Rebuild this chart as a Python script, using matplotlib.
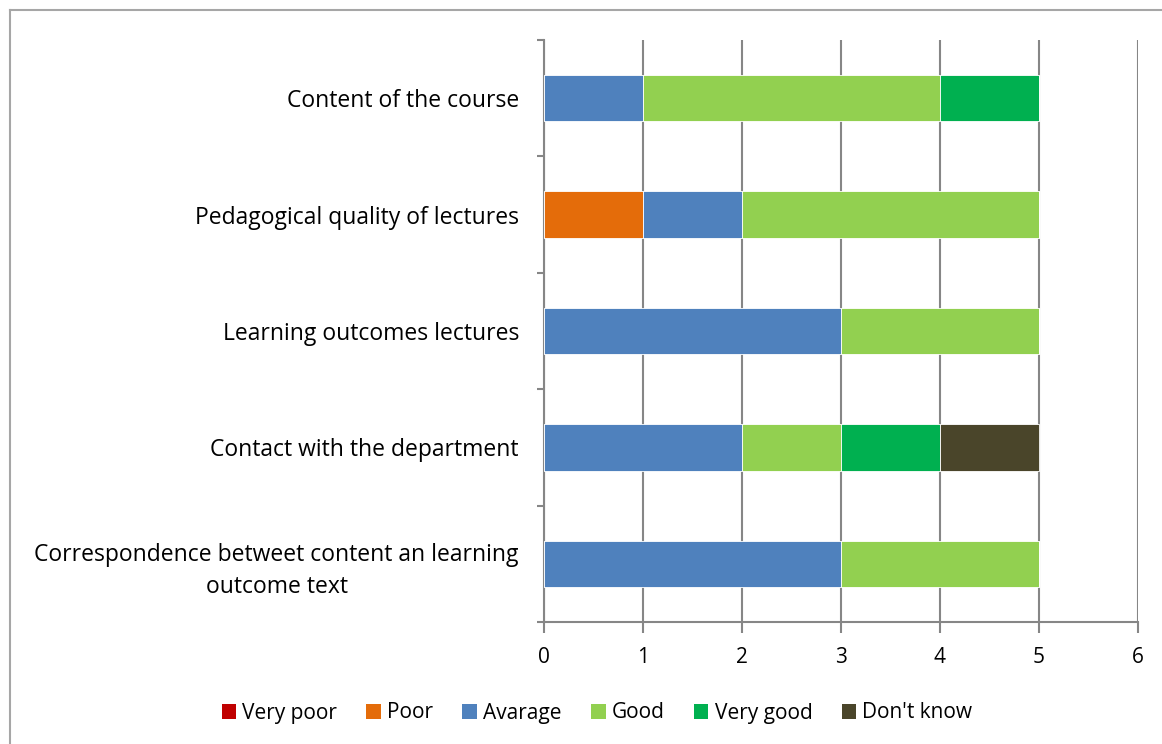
import matplotlib.pyplot as plt
from matplotlib.lines import Line2D
from matplotlib.patches import Patch
import numpy as np

categories = [
    "Content of the course",
    "Pedagogical quality of lectures",
    "Learning outcomes lectures",
    "Contact with the department",
    "Correspondence betweet content an learning\noutcome text",
]
series = ["Very poor", "Poor", "Avarage", "Good", "Very good", "Don't know"]
very_poor = [0, 0, 0, 0, 0]
poor = [0, 1, 0, 0, 0]
avarage = [1, 1, 3, 2, 3]
good = [3, 3, 2, 1, 2]
very_good = [1, 0, 0, 1, 0]
dont_know = [0, 0, 0, 1, 0]
colors = ["#C00000", "#E46C0A", "#4F81BD", "#92D050", "#00B050", "#4A452A"]

plt.rcParams["font.family"] = ["Open Sans", "DejaVu Sans"]

fig = plt.figure(figsize=(11.62, 7.44), dpi=100)
ax = fig.add_axes([544 / 1162, 1 - 622 / 744, (1138 - 544) / 1162, (622 - 40) / 744])

y = np.arange(len(categories))[::-1]
left = np.zeros(len(categories))
for name, vals, col in zip(series, [very_poor, poor, avarage, good, very_good, dont_know], colors):
    vals = np.array(vals, dtype=float)
    ax.barh(y, vals, left=left, height=0.4, color=col, edgecolor="white", linewidth=0.6, zorder=3)
    left += vals

ax.set_xlim(0, 6)
ax.set_ylim(-0.5, 4.5)
ax.set_xticks(range(7))
ax.tick_params(axis="x", length=8, color="#868686", width=1.5, labelsize=15, pad=10)
ax.set_yticks(y)
ax.set_yticklabels(categories, fontsize=16.5, ha="right", multialignment="center",
                   linespacing=1.45)
ax.tick_params(axis="y", length=0, pad=18)
ax.set_yticks(np.arange(-0.5, 5, 1), minor=True)
ax.tick_params(axis="y", which="minor", length=5, color="#868686", width=1.5)
ax.grid(axis="x", color="#868686", linewidth=1.5, zorder=0)
for s in ["top", "right"]:
    ax.spines[s].set_visible(False)
for s in ["left", "bottom"]:
    ax.spines[s].set_color("#868686")
    ax.spines[s].set_linewidth(1.5)

handles = [Patch(facecolor=c, label=n) for n, c in zip(series, colors)]
fig.legend(handles=handles, loc="center", bbox_to_anchor=(597 / 1162, 1 - 713 / 744), ncol=6,
           frameon=False, fontsize=15, handlelength=0.7, handleheight=0.7, handletextpad=0.3,
           columnspacing=1.4)

# chart area border (only left and top visible)
fig.add_artist(Line2D([10 / 1162, 10 / 1162], [0, 1 - 10 / 744], transform=fig.transFigure,
                      color="#A6A6A6", linewidth=1.5))
fig.add_artist(Line2D([10 / 1162, 1], [1 - 10 / 744, 1 - 10 / 744], transform=fig.transFigure,
                      color="#A6A6A6", linewidth=1.5))

fig.savefig("out.png", dpi=100)
